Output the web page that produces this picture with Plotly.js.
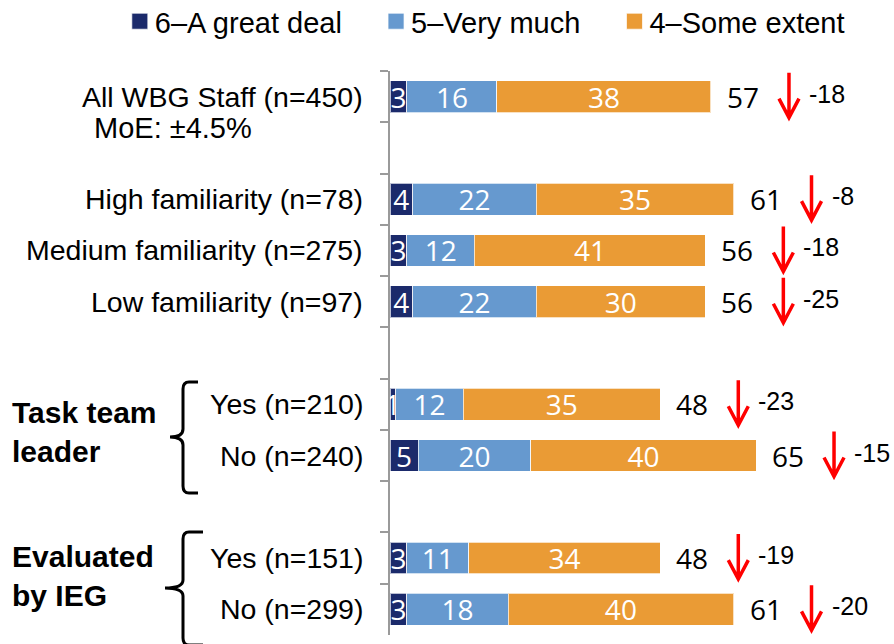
<!DOCTYPE html>
<html><head><meta charset="utf-8">
<script src="https://cdn.plot.ly/plotly-3.0.1.min.js"></script>
<style>html,body{margin:0;padding:0;background:#fff}#chart{width:894px;height:644px}</style>
</head><body><div id="chart"></div>
<script>
// ---- data ----
const groups = ['All WBG Staff (n=450)','High familiarity (n=78)','Medium familiarity (n=275)','Low familiarity (n=97)','Yes (n=210)','No (n=240)','Yes (n=151)','No (n=299)'];
const greatDeal  = [3, 4, 3, 4, 1, 5, 3, 3];
const veryMuch   = [16,22,12,22,12,20,11,18];
const someExtent = [38,35,41,30,35,40,34,40];
const totals     = [57,61,56,56,48,65,48,61];
const changes    = [-18,-8,-18,-25,-23,-15,-19,-20];
const seriesNames = ['6–A great deal','5–Very much','4–Some extent'];
const moeNote = 'MoE: ±4.5%';
const sectionLabels = ['Task team<br>leader','Evaluated<br>by IEG'];
const sectionRows = [[4,5],[6,7]];
// row order with blank spacer rows
const rowOrder = [groups[0],' ',groups[1],groups[2],groups[3],'  ',groups[4],groups[5],'   ',groups[6],groups[7]];

const colors = ['#1B2A6B','#6699CF','#EA9B35'];
const seriesVals = [greatDeal, veryMuch, someExtent];
const numFont = 'Open Sans, Noto Sans, sans-serif';
const txtFont = 'Liberation Sans, Arial, sans-serif';
const pad = '\u00a0\u00a0\u00a0';

const traces = seriesVals.map((vals, k) => ({
  type: 'bar', orientation: 'h', name: seriesNames[k] + (k < seriesNames.length - 1 ? pad : ''),
  y: groups, x: vals,
  text: vals.map(String), textposition: 'inside', insidetextanchor: 'middle', textangle: 0,
  constraintext: 'none', cliponaxis: false,
  textfont: {family: numFont, size: 28, color: '#ffffff'},
  marker: {color: colors[k], line: {color: 'rgba(255,255,255,0.7)', width: 1}},
  hoverinfo: 'skip'
}));

const idx = groups.map(g => rowOrder.indexOf(g));
const annotations = [];
const shapes = [];

groups.forEach((g, i) => {
  annotations.push({xref:'x', yref:'y', x:0, y:idx[i], xanchor:'right', yanchor:'middle', xshift:-25,
    text:g, showarrow:false, font:{family:txtFont, size:28.5, color:'#000'}});
  annotations.push({xref:'x', yref:'y', x:totals[i], y:idx[i], xanchor:'left', yanchor:'middle', xshift:14,
    text:String(totals[i]), showarrow:false, font:{family:numFont, size:28, color:'#000'}});
  annotations.push({xref:'x', yref:'y', x:totals[i], y:idx[i], xanchor:'left', yanchor:'middle', xshift:96, yshift:3,
    text:String(changes[i]), showarrow:false, font:{family:txtFont, size:25, color:'#000'}});
  shapes.push({type:'path', xref:'x', yref:'y', xsizemode:'pixel', ysizemode:'pixel',
    xanchor:totals[i], yanchor:idx[i],
    path:'M78,24 L78,-19 M68,-2 L78,-21 L88,-2',
    line:{color:'#FF0000', width:3.5}});
});
// MoE note under first label
annotations.push({xref:'x', yref:'y', x:0, y:idx[0], xanchor:'left', yanchor:'middle', xshift:-298, yshift:-31,
  text:moeNote, showarrow:false, font:{family:txtFont, size:29, color:'#000'}});

// section labels
sectionLabels.forEach((s, j) => {
  const mid = (idx[sectionRows[j][0]] + idx[sectionRows[j][1]]) / 2;
  annotations.push({xref:'x', yref:'y', x:0, y:mid, xanchor:'left', yanchor:'middle', xshift:-380,
    yshift: j === 0 ? -2 : 8, align:'left',
    text:'<b>'+s+'</b>', showarrow:false, font:{family:txtFont, size:30, color:'#000'}});
});

// braces (decoration), pixel offsets from plot bottom-left corner
shapes.push({type:'path', xref:'paper', yref:'paper', xsizemode:'pixel', ysizemode:'pixel', xanchor:0, yanchor:0,
  path:'M-192,253 L-201,253 Q-207,253 -207,246 L-207,206 Q-207,198 -220,198 Q-207,198 -207,190 L-207,149 Q-207,142 -201,142 L-192,142',
  line:{color:'#000', width:3}});
shapes.push({type:'path', xref:'paper', yref:'paper', xsizemode:'pixel', ysizemode:'pixel', xanchor:0, yanchor:0,
  path:'M-187,103 L-201,103 Q-207,103 -207,96 L-207,55 Q-207,47 -225,47 Q-207,47 -207,39 L-207,-3 Q-207,-10 -201,-10 L-187,-10',
  line:{color:'#000', width:3}});

const layout = {
  width: 894, height: 644,
  margin: {l: 390, r: 0, t: 71, b: 9, pad: 0, autoexpand: false},
  paper_bgcolor: '#fff', plot_bgcolor: '#fff',
  barmode: 'stack', bargap: 0.38,
  showlegend: true,
  legend: {orientation:'h', x:-0.546, xanchor:'left', y:1.088, yanchor:'middle',
    font:{family:txtFont, size:29, color:'#000'}, traceorder:'normal', itemclick:false},
  xaxis: {range:[0, 89.5], visible:false, fixedrange:true},
  yaxis: {type:'category', categoryorder:'array', categoryarray:rowOrder, range:[10.5, -0.5],
    tickson:'boundaries', ticks:'outside', ticklen:8, tickwidth:2, tickcolor:'#9a9a9a',
    showline:true, linecolor:'#9a9a9a', linewidth:2, showticklabels:false,
    showgrid:false, zeroline:false, fixedrange:true},
  annotations, shapes,
  font: {family: txtFont}
};
Plotly.newPlot('chart', traces, layout, {displayModeBar:false, staticPlot:true}).then(() => {
  // enlarge legend squares slightly and pull them toward their text
  document.querySelectorAll('#chart .legend .legendpoints').forEach(g => {
    g.setAttribute('transform', 'translate(5,0)');
    g.querySelectorAll('path').forEach(p => p.setAttribute('d', 'M8,8H-8V-8H8Z'));
  });
});
</script></body></html>
